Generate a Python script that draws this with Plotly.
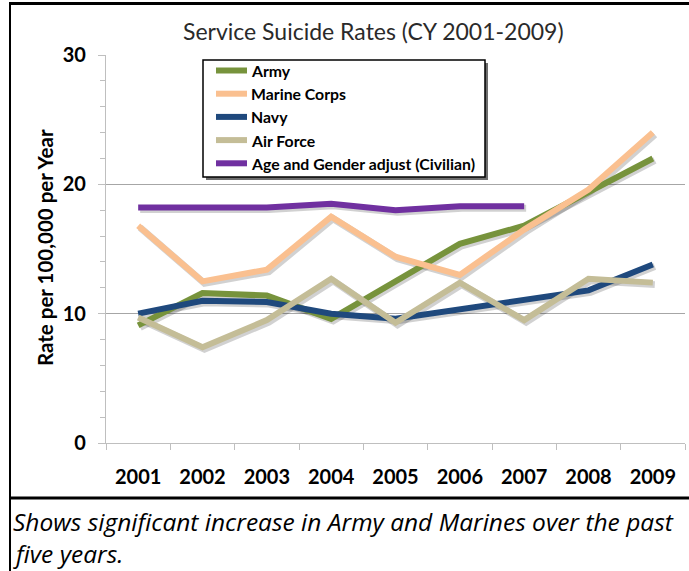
import plotly.graph_objects as go

# ---- data ----
years = ["2001", "2002", "2003", "2004", "2005", "2006", "2007", "2008", "2009"]
army = [9.1, 11.6, 11.4, 9.6, 12.5, 15.4, 16.8, 19.4, 22.0]
marine = [16.8, 12.5, 13.4, 17.5, 14.4, 13.0, 16.5, 19.6, 24.0]
navy = [10.0, 11.0, 10.9, 10.0, 9.6, 10.3, 11.1, 11.8, 13.8]
airforce = [9.7, 7.4, 9.5, 12.7, 9.3, 12.4, 9.5, 12.7, 12.4]
civilian = [18.2, 18.2, 18.2, 18.5, 18.0, 18.3, 18.3, None, None]

series_names = ["Army", "Marine Corps", "Navy", "Air Force", "Age and Gender adjust (Civilian)"]
series_values = [army, marine, navy, airforce, civilian]
series_colors = ["#77933C", "#FAC090", "#1F497D", "#C4BD97", "#7030A0"]

title_text = "Service Suicide Rates (CY 2001-2009)"
ytitle_text = "Rate per 100,000 per Year"
caption_lines = ["Shows significant increase in Army and Marines over the past", "five years."]

# ---- layout geometry (pixels) ----
W, H = 689, 571
L, R, T, B = 106, 4, 55, 128
PW, PH = W - L - R, H - T - B

def px(x):
    return (x - L) / PW

def py(y):
    return (H - B - y) / PH

FONT = "Lato"

fig = go.Figure()

# shadow offset expressed as axis-range shifts
ncat = len(years)
dx = 2.0 * ncat / PW
dy = 2.0 * 30 / PH

for vals in series_values:
    fig.add_trace(go.Scatter(x=years, y=vals, mode="lines",
                             line=dict(color="rgba(0,0,0,0.18)", width=7),
                             hoverinfo="skip", showlegend=False,
                             xaxis="x", yaxis="y"))

for name, vals, col in zip(series_names, series_values, series_colors):
    fig.add_trace(go.Scatter(x=years, y=vals, mode="lines", name=name,
                             line=dict(color=col, width=6),
                             showlegend=False, xaxis="x2", yaxis="y2"))

shapes = []
annotations = []

# legend box (shadow + box)
lx0, lx1, ly0, ly1 = 203, 485, 60, 177
shapes.append(dict(type="rect", xref="paper", yref="paper",
                   x0=px(lx0 + 3), x1=px(lx1 + 3), y0=py(ly0 + 3), y1=py(ly1 + 3),
                   line=dict(width=0), fillcolor="rgba(60,60,60,0.75)", layer="above"))
shapes.append(dict(type="rect", xref="paper", yref="paper",
                   x0=px(lx0), x1=px(lx1), y0=py(ly0), y1=py(ly1),
                   line=dict(color="black", width=1.5), fillcolor="white", layer="above"))
for i, (name, col) in enumerate(zip(series_names, series_colors)):
    yc = 70.5 + i * 23.2
    shapes.append(dict(type="line", xref="paper", yref="paper",
                       x0=px(216), x1=px(247), y0=py(yc), y1=py(yc),
                       line=dict(color=col, width=6), layer="above"))
    annotations.append(dict(text=name, xref="paper", yref="paper",
                            x=px(249), y=py(yc), xanchor="left", yanchor="middle",
                            showarrow=False,
                            font=dict(family=FONT, size=15.8, color="black", weight="bold")))

# frame lines
shapes.append(dict(type="line", xref="paper", yref="paper",
                   x0=px(9), x1=px(689), y0=py(3.5), y1=py(3.5),
                   line=dict(color="black", width=3)))
shapes.append(dict(type="line", xref="paper", yref="paper",
                   x0=px(10), x1=px(10), y0=py(3), y1=py(571),
                   line=dict(color="black", width=2)))
shapes.append(dict(type="line", xref="paper", yref="paper",
                   x0=px(9), x1=px(689), y0=py(498), y1=py(498),
                   line=dict(color="black", width=3)))

# title
annotations.append(dict(text=title_text, xref="paper", yref="paper",
                        x=px(373), y=py(31), xanchor="center", yanchor="middle",
                        showarrow=False, font=dict(family=FONT, size=23, color="#2a2a2a")))
# y-axis title
annotations.append(dict(text=ytitle_text, xref="paper", yref="paper",
                        x=px(45), y=py(248), xanchor="center", yanchor="middle",
                        textangle=-90, showarrow=False,
                        font=dict(family=FONT, size=20.5, color="black", weight="bold")))
# caption
for i, line in enumerate(caption_lines):
    annotations.append(dict(text=line, xref="paper", yref="paper",
                            x=px(11), y=py(521 + i * 32), xanchor="left", yanchor="middle",
                            showarrow=False,
                            font=dict(family="Open Sans", size=24.5, color="black", style="italic")))

fig.update_layout(
    width=W, height=H,
    margin=dict(l=L, r=R, t=T, b=B, pad=0),
    paper_bgcolor="white", plot_bgcolor="white",
    showlegend=False,
    xaxis=dict(type="category", range=[-0.5 - dx, ncat - 0.5 - dx], visible=False,
               fixedrange=True),
    yaxis=dict(range=[0 + dy, 30 + dy], visible=False, fixedrange=True),
    xaxis2=dict(type="category", overlaying="x", anchor="y2", side="bottom",
                range=[-0.5, ncat - 0.5], showgrid=False, zeroline=False,
                showline=True, linecolor="#BFBFBF", linewidth=1.2,
                ticks="outside", tickson="boundaries", ticklen=6, tickcolor="#BFBFBF",
                ticklabelstandoff=16,
                tickfont=dict(family=FONT, size=20, color="black", weight="bold")),
    yaxis2=dict(overlaying="y", anchor="x2", side="left",
                range=[0, 30], dtick=10, tick0=0,
                showgrid=True, gridcolor="#A6A6A6", gridwidth=1, zeroline=False,
                showline=True, linecolor="#BFBFBF", linewidth=1.2,
                ticks="outside", ticklen=7, tickcolor="#BFBFBF",
                minor=dict(dtick=2, ticks="outside", ticklen=5, tickcolor="#BFBFBF", showgrid=False),
                ticklabelstandoff=8,
                tickfont=dict(family=FONT, size=20, color="black", weight="bold")),
    shapes=shapes,
    annotations=annotations,
)

fig.write_html("out.html", config={"displayModeBar": False},
               post_script="document.body.style.margin='0';document.body.style.overflow='hidden';")
